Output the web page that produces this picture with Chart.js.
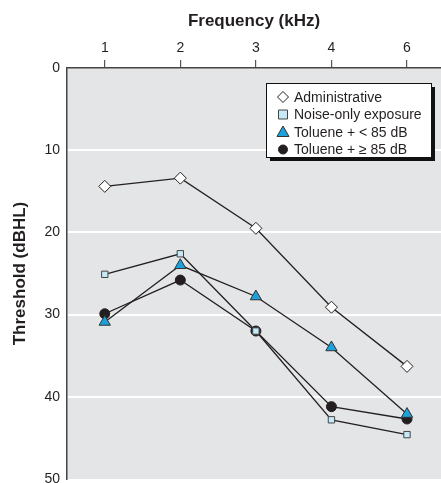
<!DOCTYPE html>
<html>
<head>
<meta charset="utf-8">
<script src="https://cdn.jsdelivr.net/npm/chart.js@4.4.1/dist/chart.umd.min.js"></script>
<style>
  html, body { margin: 0; padding: 0; background: #fff; overflow: hidden; }
  #wrap { width: 441px; height: 483px; position: relative; }
</style>
</head>
<body>
<div id="wrap"><canvas id="grafik"></canvas></div>
<script>
// ================= DATA =================
const frekuensi = ["1", "2", "3", "4", "6"];
const posisiX = [1, 2, 3, 4, 5];
const administrative = [14.4, 13.4, 19.5, 29.1, 36.3];
const noiseOnly = [25.1, 22.6, 32.0, 42.8, 44.6];
const tolueneLow = [30.9, 24.0, 27.8, 34.0, 42.1];
const tolueneHigh = [29.9, 25.8, 32.0, 41.2, 42.7];
const yTicks = [0, 10, 20, 30, 40, 50];

const FONT = "'Liberation Sans Narrow', 'Arial Narrow', 'Liberation Sans', sans-serif";

function titik(values) {
  return values.map((v, i) => ({ x: posisiX[i], y: v }));
}

const series = [
  { label: "Administrative", data: administrative, style: "rectRot", fill: "#ffffff", border: "#222", r: 6 },
  { label: "Noise-only exposure", data: noiseOnly, style: "rect", fill: "#c6e9f8", border: "#444", r: 4.5 },
  { label: "Toluene + < 85 dB", data: tolueneLow, style: "triangle", fill: "#1ba1db", border: "#333", r: 6.5 },
  { label: "Toluene + \u2265 85 dB", data: tolueneHigh, style: "circle", fill: "#231f20", border: "#231f20", r: 5 },
];

// ================= PLUGINS =================
const latarPlot = {
  id: "latarPlot",
  beforeDraw(chart) {
    const { ctx, chartArea: a } = chart;
    ctx.save();
    ctx.fillStyle = "#e4e5e7";
    ctx.fillRect(a.left, a.top, a.right - a.left, a.bottom - a.top);
    ctx.restore();
  },
};

function gambarMarker(ctx, style, x, y, r, fill, border) {
  ctx.save();
  ctx.fillStyle = fill;
  ctx.strokeStyle = border;
  ctx.lineWidth = 1;
  ctx.beginPath();
  if (style === "rectRot") {
    ctx.moveTo(x, y - r); ctx.lineTo(x + r, y); ctx.lineTo(x, y + r); ctx.lineTo(x - r, y); ctx.closePath();
  } else if (style === "rect") {
    ctx.rect(x - r, y - r, r * 2, r * 2);
  } else if (style === "triangle") {
    ctx.moveTo(x, y - r); ctx.lineTo(x + r, y + r * 0.75); ctx.lineTo(x - r, y + r * 0.75); ctx.closePath();
  } else {
    ctx.arc(x, y, r, 0, Math.PI * 2);
  }
  ctx.fill();
  ctx.stroke();
  ctx.restore();
}

const legendaKotak = {
  id: "legendaKotak",
  afterDraw(chart) {
    const ctx = chart.ctx;
    const x = 266, y = 83, w = 165, h = 74;
    ctx.save();
    ctx.fillStyle = "#111";
    ctx.fillRect(x + 4, y + 4, w, h);
    ctx.fillStyle = "#fff";
    ctx.fillRect(x, y, w, h);
    ctx.strokeStyle = "#111";
    ctx.lineWidth = 1;
    ctx.strokeRect(x + 0.5, y + 0.5, w, h);
    ctx.font = "14px " + FONT;
    ctx.textBaseline = "middle";
    series.forEach((s, i) => {
      const cy = y + 14 + i * 17.5;
      const rr = s.style === "triangle" ? 6 : s.style === "rectRot" ? 5.5 : 4.5;
      gambarMarker(ctx, s.style, x + 17, cy, rr, s.fill, s.border);
      ctx.fillStyle = "#231f20";
      ctx.fillText(s.label, x + 28, cy + 1);
    });
    ctx.restore();
  },
};

// ================= GRAFIK =================
new Chart(document.getElementById("grafik"), {
  type: "line",
  data: {
    datasets: series.map((s) => ({
      label: s.label,
      data: titik(s.data),
      borderColor: "#231f20",
      borderWidth: 1.3,
      pointStyle: s.style,
      pointRadius: s.r,
      pointBackgroundColor: s.fill,
      pointBorderColor: s.border,
      pointBorderWidth: 1,
      tension: 0,
    })),
  },
  options: {
    responsive: true,
    maintainAspectRatio: false,
    animation: false,
    layout: { autoPadding: false, padding: { top: 0, right: 0, bottom: 4, left: 0 } },
    plugins: { legend: { display: false }, tooltip: { enabled: false } },
    scales: {
      x: {
        type: "linear",
        position: "top",
        min: 0.5,
        max: 5.45,
        afterBuildTicks: (scale) => {
          scale.ticks = posisiX.map((v) => ({ value: v }));
        },
        afterFit: (scale) => {
          scale.height = 68;
          scale.paddingLeft = 0;
          scale.paddingRight = 0;
        },
        ticks: {
          callback: (v) => frekuensi[posisiX.indexOf(v)] || "",
          font: { family: FONT, size: 14 },
          color: "#231f20",
          padding: 3,
          maxRotation: 0,
        },
        grid: { drawOnChartArea: false, drawTicks: true, tickLength: 8, color: "#555", lineWidth: 1.2 },
        border: { display: true, color: "#444", width: 1.5 },
        title: {
          display: true,
          text: "Frequency (kHz)",
          font: { family: FONT, size: 17, weight: "bold" },
          color: "#231f20",
          padding: { top: 11, bottom: 0 },
        },
      },
      y: {
        reverse: true,
        min: 0,
        max: 50,
        afterBuildTicks: (scale) => {
          scale.ticks = yTicks.map((v) => ({ value: v }));
        },
        afterFit: (scale) => {
          scale.width = 67;
          scale.paddingTop = 0;
          scale.paddingBottom = 0;
        },
        ticks: {
          font: { family: FONT, size: 14 },
          color: "#231f20",
          padding: 7,
        },
        grid: {
          drawTicks: false,
          color: (c) => (c.tick && (c.tick.value === 0 || c.tick.value === 50) ? "rgba(0,0,0,0)" : "#ffffff"),
          lineWidth: 2,
        },
        border: { display: true, color: "#444", width: 1.5 },
        title: {
          display: true,
          text: "Threshold (dBHL)",
          font: { family: FONT, size: 17, weight: "bold" },
          color: "#231f20",
          padding: { top: 10, bottom: 0 },
        },
      },
    },
  },
  plugins: [latarPlot, legendaKotak],
});
</script>
</body>
</html>
